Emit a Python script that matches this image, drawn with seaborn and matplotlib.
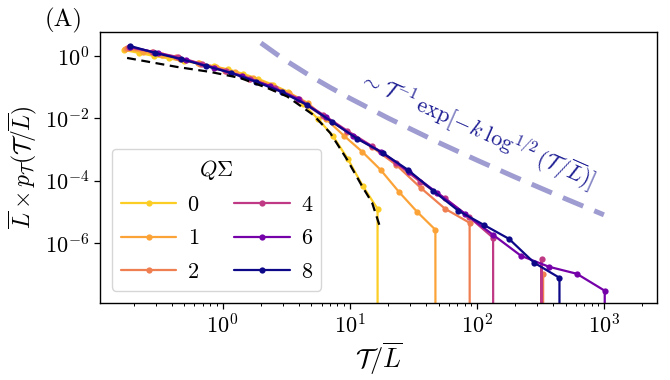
import numpy as np
import pandas as pd
import matplotlib
matplotlib.use("Agg")
import matplotlib.pyplot as plt
import seaborn as sns
from matplotlib.ticker import LogLocator, NullLocator, FixedLocator

sns.set_theme(style="ticks")
plt.rcParams.update({
    "font.family": ["cmr10", "DejaVu Serif"],
    "mathtext.fontset": "cm",
    "axes.unicode_minus": False,
    "axes.formatter.use_mathtext": True,
    "axes.edgecolor": "black",
    "xtick.color": "black",
    "ytick.color": "black",
    "text.color": "black",
    "axes.labelcolor": "black",
})

# ---------------- data ----------------
q_levels = [0, 1, 2, 4, 6, 8]

T_q0 = [0.168, 0.220, 0.288, 0.377, 0.494, 0.647, 0.848, 1.111, 1.455, 1.907, 2.498,
        3.273, 4.289, 5.619, 7.362, 9.645, 12.64, 16.55, 21.7]
p_q0 = [1.557, 1.248, 1.0, 0.832, 0.691, 0.575, 0.461, 0.369, 0.265, 0.183, 0.118,
        0.0702, 0.0289, 0.00957, 0.00273, 5.0e-4, 6.81e-5, 1.25e-5, 0.0]

T_q1 = [0.171, 0.238, 0.331, 0.460, 0.641, 0.892, 1.242, 1.728, 2.405, 3.349, 4.661,
        6.488, 9.031, 12.57, 17.50, 24.36, 33.90, 47.20, 65.7]
p_q1 = [1.676, 1.343, 1.037, 0.802, 0.597, 0.444, 0.307, 0.197, 0.118, 0.0652, 0.0312,
        0.00957, 0.00273, 8.38e-4, 2.22e-4, 4.38e-5, 1.0e-5, 2.65e-6, 0.0]

T_q2 = [0.177, 0.276, 0.430, 0.669, 1.042, 1.624, 2.530, 3.942, 6.141, 9.566, 14.90,
        23.21, 36.16, 56.33, 87.77, 136.7, 213.0, 331.8, 517.0]
p_q2 = [1.805, 1.343, 0.929, 0.554, 0.331, 0.183, 0.0943, 0.0389, 0.0119, 0.00367, 0.00121,
        3.21e-4, 5.88e-5, 1.25e-5, 4.44e-6, 0.0, 0.0, 1.03e-7, 0.0]

T_q4 = [0.184, 0.285, 0.442, 0.686, 1.066, 1.654, 2.567, 3.985, 6.185, 9.601, 14.90,
        23.13, 35.91, 55.73, 86.50, 134.3, 208.4, 323.4, 502.0]
p_q4 = [1.943, 1.343, 0.929, 0.554, 0.331, 0.183, 0.0943, 0.0418, 0.0129, 0.00395, 0.00130,
        3.72e-4, 9.15e-5, 2.81e-5, 6.91e-6, 1.47e-6, 0.0, 3.12e-7, 0.0]

T_q6 = [0.187, 0.310, 0.514, 0.853, 1.414, 2.345, 3.889, 6.448, 10.69, 17.74, 29.41,
        48.78, 80.89, 134.1, 222.5, 368.9, 611.8, 1015.0, 1680.0]
p_q6 = [1.943, 1.248, 0.744, 0.413, 0.229, 0.109, 0.0418, 0.0111, 0.00273, 8.38e-4, 1.91e-4,
        4.06e-5, 8.63e-6, 1.83e-6, 3.89e-7, 1.73e-7, 1.03e-7, 2.94e-8, 0.0]

T_q8 = [0.187, 0.295, 0.467, 0.738, 1.166, 1.842, 2.911, 4.601, 7.271, 11.49, 18.16,
        28.70, 45.36, 71.68, 113.2, 179.0, 282.8, 446.9, 706.0]
p_q8 = [2.092, 1.248, 0.802, 0.478, 0.285, 0.147, 0.0702, 0.0269, 0.00766, 0.00219, 7.78e-4,
        2.22e-4, 4.71e-5, 1.08e-5, 3.83e-6, 1.36e-6, 2.32e-7, 7.66e-8, 0.0]

# black dashed reference curve
T_ref = [0.177, 0.438, 0.80, 1.37, 2.24, 3.22, 5.16, 7.02, 9.55, 12.6, 15.0, 17.1]
p_ref = [0.863, 0.444, 0.307, 0.197, 0.0942, 0.050, 0.0129, 0.00339, 4.68e-4, 6.3e-5, 1.95e-5, 3.8e-6]

# lavender guide curve  ~ T^-1 exp[-k log^{1/2}(T/L)]
T_guide = [2, 3, 5, 7, 10, 20, 50, 100, 200, 500, 1000]
p_guide = [2.61, 0.80, 0.216, 0.098, 0.0441, 0.0102, 1.67e-3, 4.56e-4, 1.30e-4, 2.61e-5, 8.0e-6]

series_T = [T_q0, T_q1, T_q2, T_q4, T_q6, T_q8]
series_p = [p_q0, p_q1, p_q2, p_q4, p_q6, p_q8]

# ---------------- figure ----------------
fig = plt.figure(figsize=(6.7, 3.8), dpi=100)
ax = fig.add_axes([0.149, 0.203, 0.832, 0.713])

cmap = plt.get_cmap("plasma")
cpos = {0: 0.9, 1: 0.79, 2: 0.68, 4: 0.45, 6: 0.23, 8: 0.0}

for q, T, p in zip(q_levels, series_T, series_p):
    df = pd.DataFrame({"T": T, "p": p})
    sns.lineplot(data=df, x="T", y="p", ax=ax, estimator=None, sort=False,
                 color=cmap(cpos[q]), linewidth=1.6, marker="o", markersize=4.5,
                 markeredgewidth=0, label=str(q))

sns.lineplot(x=T_ref, y=p_ref, ax=ax, estimator=None, sort=False, color="black",
             linewidth=1.6, zorder=5).lines[-1].set_dashes((4, 2.5))
gl = sns.lineplot(x=T_guide, y=p_guide, ax=ax, estimator=None, sort=False,
                  color="#9e9cd0", linewidth=3.6, zorder=1).lines[-1]
gl.set_dashes((4.4, 2.4))

ax.set_xscale("log")
ax.set_yscale("log")
ax.set_xlim(0.108, 2630)
ax.set_ylim(1.2e-8, 5.9)

ax.yaxis.set_major_locator(FixedLocator([1e-6, 1e-4, 1e-2, 1e0]))
ax.yaxis.set_minor_locator(NullLocator())
ax.xaxis.set_major_locator(LogLocator(base=10, numticks=10))
ax.xaxis.set_minor_locator(LogLocator(base=10, subs=np.arange(2, 10), numticks=20))

for s in ax.spines.values():
    s.set_visible(True)
    s.set_linewidth(1.0)
    s.set_color("black")
ax.tick_params(axis="both", which="major", labelsize=16, length=4, width=0.9, direction="out")
ax.tick_params(axis="both", which="minor", length=2.5, width=0.7, direction="out")

ax.set_xlabel(r"$\mathcal{T}/\overline{L}$", fontsize=19, labelpad=2)
ax.set_ylabel(r"$\overline{L}\times p_{\mathcal{T}}(\mathcal{T}/\overline{L})$", fontsize=17, labelpad=4)

ax.text(101, 4.3e-3, r"$\sim\mathcal{T}^{-1}\,\exp[-k\;\log^{1/2}(\mathcal{T}/\overline{L})]$",
        rotation=-24, rotation_mode="anchor", ha="center", va="center",
        fontsize=16, color="#1e1e94")

fig.text(0.066, 0.945, "(A)", fontsize=18, ha="left", va="center")

leg = ax.legend(title=r"$Q\Sigma$", ncol=2, loc="lower left", fontsize=16, title_fontsize=16,
                handlelength=2.5, handletextpad=0.5, columnspacing=1.6, labelspacing=0.62,
                borderpad=0.4, borderaxespad=0.55, frameon=True, fancybox=True,
                edgecolor="0.8", framealpha=0.8)
leg.get_frame().set_linewidth(1.0)

fig.savefig("out.png", dpi=100)
